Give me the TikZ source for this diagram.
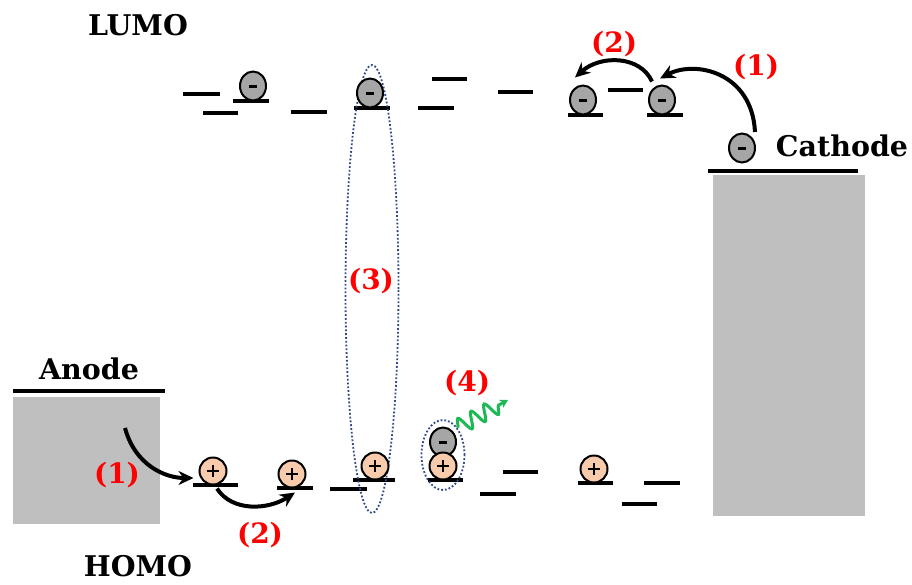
\documentclass[tikz,border=0pt]{standalone}
\usepackage{fontspec}
\setmainfont{DejaVu Serif}
\usetikzlibrary{shapes.geometric,arrows.meta,decorations.pathmorphing}
\definecolor{egray}{HTML}{A6A6A6}
\definecolor{hpeach}{HTML}{F8CBAD}
\definecolor{boxgray}{HTML}{BFBFBF}
\definecolor{dotblue}{HTML}{2F4A8A}
\definecolor{lred}{HTML}{FF0000}
\definecolor{wgreen}{HTML}{1DB954}
\begin{document}
\begin{tikzpicture}[x=1pt,y=-1pt,
 lvl/.style={line width=3.4pt},
 elec/.style={ellipse,draw,line width=2pt,fill=egray,minimum width=26pt,minimum height=29pt,inner sep=0pt,
   path picture={\draw[line width=3pt] ([xshift=-4pt]path picture bounding box.center) -- ([xshift=4pt]path picture bounding box.center);}},
 hole/.style={circle,draw,line width=2pt,fill=hpeach,minimum size=27pt,inner sep=0pt,
   path picture={\draw[line width=1.5pt] ([xshift=-6pt]path picture bounding box.center) -- ([xshift=6pt]path picture bounding box.center);
   \draw[line width=1.5pt] ([yshift=-6pt]path picture bounding box.center) -- ([yshift=6pt]path picture bounding box.center);}},
 lab/.style={font=\bfseries\fontsize{28.5}{28.5}\selectfont},
 num/.style={text=lred,font=\bfseries\fontsize{28}{28}\selectfont},
 hop/.style={line width=4pt,-{Stealth[length=15pt,width=14pt]}},
 exc/.style={draw=dotblue,dotted,line width=1.8pt,ellipse,inner sep=0pt}
]
\path[use as bounding box] (0,0) rectangle (912,584);
% electrodes
\fill[boxgray] (13,397) rectangle (160,524);
\draw[lvl] (13,391) -- (165,391);
\fill[boxgray] (713,175) rectangle (865,516);
\draw[lvl] (708,171) -- (858,171);
% levels
\foreach \a/\b/\c in {183/220/94, 203/238/113, 233/269/101, 291/327/112, 354/390/108, 418/454/108, 432/467/79, 498/533/92, 568/603/115, 608/643/90, 647/683/115,
  193/238/485, 277/313/488, 330/367/489, 353/395/480, 428/463/480, 503/538/472, 480/516/494, 578/613/483, 644/680/483, 622/657/504}
  \draw[lvl] (\a,\c) -- (\b,\c);
% exciton ellipses
\node[exc,minimum width=53pt,minimum height=448pt] (big) at (372,289) {};
\node[exc,minimum width=43pt,minimum height=70pt] (exc) at (443,455) {};
% electrons
\node[elec] (e1) at (253,86) {};
\node[elec] (e2) at (370,93) {};
\node[elec] (e3) at (583,100) {};
\node[elec] (e4) at (662,100) {};
\node[elec] (e5) at (742,148) {};
\node[elec] (e6) at (443,442) {};
% holes
\node[hole] (h1) at (213,471) {};
\node[hole] (h2) at (292,474) {};
\node[hole] (h3) at (375,466) {};
\node[hole] (h4) at (443,466) {};
\node[hole] (h5) at (594,469) {};
% texts
\node[lab] (lumo) at (138,25) {LUMO};
\node[lab] (homo) at (138,566) {HOMO};
\node[lab] (anode) at (89,369) {Anode};
\node[lab] (cathode) at (842,146) {Cathode};
\node[num] (n1c) at (756,67) {(1)};
\node[num] (n2t) at (614,44) {(2)};
\node[num] (n3) at (371,281) {(3)};
\node[num] (n4) at (467,383) {(4)};
\node[num] (n1a) at (117,475) {(1)};
\node[num] (n2b) at (260,535) {(2)};
% hops
\coordinate (c1) at (755,132);
\draw[hop] (c1) .. controls (752,72) and (695,60) .. ([xshift=-2pt,yshift=6pt]e4.north);
\draw[hop] ([xshift=-10pt,yshift=3pt]e4.north) .. controls (640,55) and (600,55) .. ([xshift=-8pt,yshift=7pt]e3.north);
\coordinate (a1) at (125,428);
\draw[hop] (a1) .. controls (135,465) and (165,478) .. ([xshift=-5pt,yshift=-7pt]h1.west);
\draw[hop] ([xshift=4pt,yshift=-3pt]h1.south) .. controls (232,512) and (268,510) .. ([xshift=3pt,yshift=-4pt]h2.south);
% photon
\draw[wgreen,line width=3pt,-{Stealth[length=8pt,width=9pt]},decorate,decoration={snake,segment length=15pt,amplitude=8pt,post length=10pt}] (exc.62) -- (508,400);
\end{tikzpicture}
\end{document}
